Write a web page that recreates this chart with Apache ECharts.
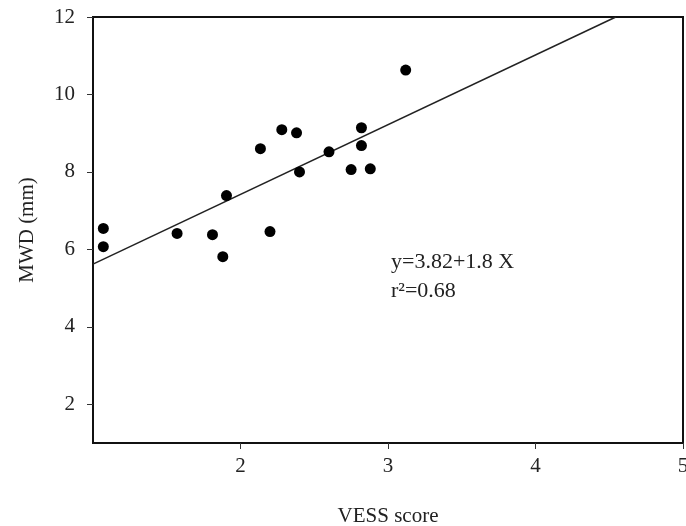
<!DOCTYPE html>
<html>
<head>
<meta charset="utf-8">
<script src="https://cdn.jsdelivr.net/npm/echarts@6/dist/echarts.min.js"></script>
<style>
html,body{margin:0;padding:0;background:#fff;}
#c{width:686px;height:526px;}
</style>
</head>
<body>
<div id="c"></div>
<script>
const vessScore = [1.07, 1.07, 1.57, 1.81, 1.88, 1.905, 2.135, 2.20, 2.28, 2.38, 2.40, 2.60, 2.75, 2.82, 2.82, 2.88, 3.12];
const mwd = [6.54, 6.07, 6.41, 6.38, 5.81, 7.39, 8.60, 6.46, 9.09, 9.01, 8.00, 8.52, 8.06, 9.14, 8.68, 8.08, 10.63];
const xTicks = [2, 3, 4, 5];
const yTicks = [2, 4, 6, 8, 10, 12];
const fitIntercept = 3.82;
const fitSlope = 1.8;
const eqText = 'y=3.82+1.8 X';
const r2Text = 'r\u00b2=0.68';

const xMin = 1, xMax = 5, yMin = 1, yMax = 12;
const fitEndX = (yMax - fitIntercept) / fitSlope;
const fitLine = [[xMin, fitIntercept + fitSlope * xMin], [fitEndX, yMax]];
const points = vessScore.map((v, i) => [v, mwd[i]]);

const font = 'Liberation Serif';
const chart = echarts.init(document.getElementById('c'));
chart.setOption({
  animation: false,
  grid: {left: 93, top: 17, right: 3, bottom: 83, show: true, borderColor: '#111', borderWidth: 2, containLabel: false, outerBoundsMode: 'none'},
  xAxis: {
    type: 'value', min: xMin, max: xMax, interval: 1,
    name: 'VESS score', nameLocation: 'middle', nameGap: 63,
    nameTextStyle: {fontFamily: font, fontSize: 21, color: '#222'},
    axisLine: {lineStyle: {color: '#111', width: 2}},
    axisTick: {show: true, length: 6, lineStyle: {color: '#333', width: 1}, customValues: xTicks},
    axisLabel: {fontFamily: font, fontSize: 21, color: '#222', margin: 13, customValues: xTicks},
    splitLine: {show: false}
  },
  yAxis: {
    type: 'value', min: yMin, max: yMax,
    name: 'MWD (mm)', nameLocation: 'middle', nameGap: 55,
    nameTextStyle: {fontFamily: font, fontSize: 21, color: '#222'},
    axisLine: {lineStyle: {color: '#111', width: 2}},
    axisTick: {show: true, length: 6, lineStyle: {color: '#333', width: 1}, customValues: yTicks},
    axisLabel: {fontFamily: font, fontSize: 21, color: '#222', margin: 18, customValues: yTicks},
    splitLine: {show: false}
  },
  series: [
    {type: 'line', data: fitLine, symbol: 'none', lineStyle: {color: '#222', width: 1.5}, z: 2},
    {type: 'scatter', data: points, symbolSize: 11, itemStyle: {color: '#000', opacity: 1}, z: 3}
  ],
  graphic: [
    {type: 'text', left: 391, top: 251, style: {text: eqText, font: '22px "Liberation Serif"', fill: '#222'}},
    {type: 'text', left: 391, top: 280, style: {text: r2Text, font: '22px "Liberation Serif"', fill: '#222'}}
  ]
});
</script>
</body>
</html>
